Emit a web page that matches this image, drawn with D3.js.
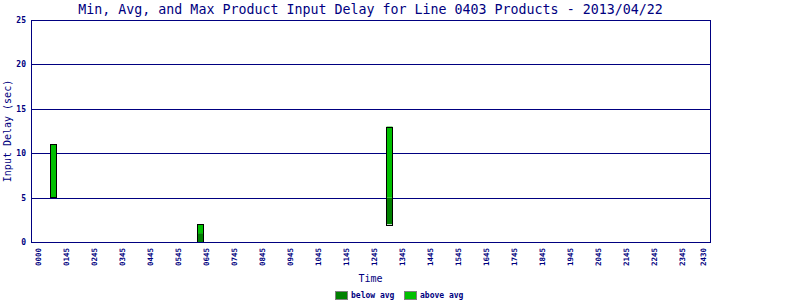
<!DOCTYPE html>
<html>
<head>
<meta charset="utf-8">
<script src="https://cdn.jsdelivr.net/npm/d3@7"></script>
<style>
  body { margin: 0; background: #fff; }
  svg { display: block; font-family: "DejaVu Sans Mono", "Liberation Mono", monospace; }
</style>
</head>
<body>
<div id="chart"></div>
<script>
const w = 800;
const h = 300;
const navy = '#000080';
const darkGreen = '#008000';
const lightGreen = '#00c000';

// x ticks (minutes of day at which each label sits) and their labels
const tickMinutes = [45, 105, 165, 225, 285, 345, 405, 465, 525, 585, 645, 705, 765,
  825, 885, 945, 1005, 1065, 1125, 1185, 1245, 1305, 1365, 1425, 1470];
const tickLabels = ['0000', '0145', '0245', '0345', '0445', '0545', '0645', '0745', '0845',
  '0945', '1045', '1145', '1245', '1345', '1445', '1545', '1645', '1745', '1845', '1945',
  '2045', '2145', '2245', '2345', '2430'];
const yTicks = [0, 5, 10, 15, 20, 25];

// bars: time (minutes), min, avg, max delay (sec)
const barMinutes = [77, 392, 797];
const minDelay = [5, 0, 2];
const avgDelay = [5, 1, 5];
const maxDelay = [11, 2, 13];

const plotL = 31, plotR = 710, plotT = 20, plotB = 242;

const svg = d3.select('#chart').append('svg')
  .attr('width', w)
  .attr('height', h);

const xScale = d3.scaleLinear().domain([30, 1485]).range([plotL, plotR]);
const yScale = d3.scaleLinear().domain([0, 25]).range([plotB, plotT]);

// title
svg.append('text')
  .attr('x', (plotL + plotR) / 2)
  .attr('y', 14)
  .attr('text-anchor', 'middle')
  .attr('fill', navy)
  .style('font-size', '13.3px')
  .text('Min, Avg, and Max Product Input Delay for Line 0403 Products - 2013/04/22');

// grid lines
svg.append('g').selectAll('line')
  .data(yTicks.slice(1, -1))
  .enter().append('line')
  .attr('x1', plotL).attr('x2', plotR)
  .attr('y1', d => Math.round(yScale(d)) + 0.5)
  .attr('y2', d => Math.round(yScale(d)) + 0.5)
  .attr('stroke', navy);

// y axis labels
const yAxis = d3.axisLeft(yScale).tickValues(yTicks).tickSize(0).tickPadding(5);
svg.append('g')
  .attr('transform', 'translate(' + plotL + ',0)')
  .call(yAxis)
  .call(g => g.select('.domain').remove())
  .selectAll('text')
  .attr('fill', navy)
  .style('font-family', '"DejaVu Sans Mono", monospace')
  .style('font-size', '8px')
  .style('font-weight', 'bold');

// x axis labels
const xAxis = d3.axisBottom(xScale).tickValues(tickMinutes)
  .tickFormat((d, i) => tickLabels[i]).tickSize(0);
svg.append('g')
  .attr('transform', 'translate(0,' + plotB + ')')
  .call(xAxis)
  .call(g => g.select('.domain').remove())
  .selectAll('text')
  .attr('fill', navy)
  .style('font-family', '"DejaVu Sans Mono", monospace')
  .style('font-size', '7.5px')
  .style('font-weight', 'bold')
  .attr('text-anchor', 'end')
  .attr('transform', 'rotate(-90)')
  .attr('x', -6)
  .attr('y', 0)
  .attr('dy', '0.32em');

// bars
const bars = svg.append('g').selectAll('g')
  .data(barMinutes)
  .enter().append('g');

const barW = 6;
bars.append('rect')
  .attr('x', d => Math.round(xScale(d) - barW / 2) + 0.5)
  .attr('y', (d, i) => yScale(avgDelay[i]))
  .attr('width', barW)
  .attr('height', (d, i) => yScale(minDelay[i]) - yScale(avgDelay[i]))
  .attr('fill', darkGreen);

bars.append('rect')
  .attr('x', d => Math.round(xScale(d) - barW / 2) + 0.5)
  .attr('y', (d, i) => yScale(maxDelay[i]))
  .attr('width', barW)
  .attr('height', (d, i) => yScale(avgDelay[i]) - yScale(maxDelay[i]))
  .attr('fill', lightGreen);

bars.append('rect')
  .attr('x', d => Math.round(xScale(d) - barW / 2) + 0.5)
  .attr('y', (d, i) => Math.round(yScale(maxDelay[i])) + 0.5)
  .attr('width', barW)
  .attr('height', (d, i) => Math.round(yScale(minDelay[i]) - yScale(maxDelay[i])))
  .attr('fill', 'none')
  .attr('stroke', '#000');

// frame
svg.append('rect')
  .attr('x', plotL + 0.5).attr('y', plotT + 0.5)
  .attr('width', plotR - plotL).attr('height', plotB - plotT)
  .attr('fill', 'none')
  .attr('stroke', navy);

// axis titles
svg.append('text')
  .attr('transform', 'rotate(-90)')
  .attr('x', -(plotT + plotB) / 2)
  .attr('y', 11)
  .attr('text-anchor', 'middle')
  .attr('fill', navy)
  .style('font-size', '10px')
  .text('Input Delay (sec)');

svg.append('text')
  .attr('x', (plotL + plotR) / 2)
  .attr('y', 282)
  .attr('text-anchor', 'middle')
  .attr('fill', navy)
  .style('font-size', '10px')
  .text('Time');

// legend
const legendItems = [['below avg', darkGreen, 335], ['above avg', lightGreen, 404]];
const legend = svg.append('g').selectAll('g')
  .data(legendItems)
  .enter().append('g')
  .attr('transform', d => 'translate(' + d[2] + ',291)');

legend.append('rect')
  .attr('x', 0.5).attr('y', 0.5)
  .attr('width', 12).attr('height', 8)
  .attr('fill', d => d[1])
  .attr('stroke', '#808080');

legend.append('text')
  .attr('x', 16)
  .attr('y', 7)
  .attr('fill', navy)
  .style('font-size', '8px')
  .style('font-weight', 'bold')
  .text(d => d[0]);
</script>
</body>
</html>
